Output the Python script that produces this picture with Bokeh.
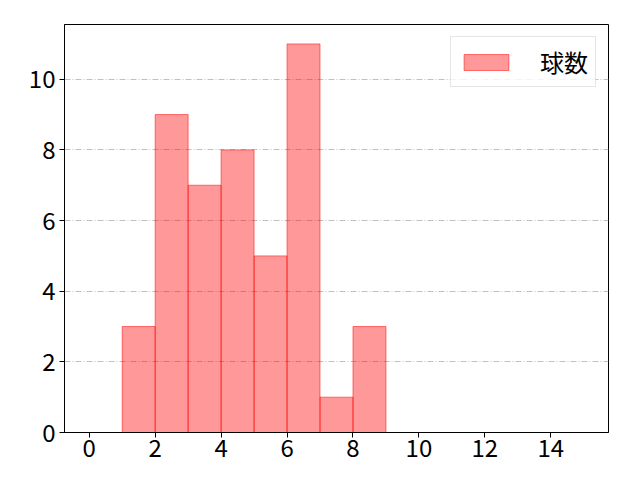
from bokeh.plotting import figure
from bokeh.models import FixedTicker, Range1d, ColumnDataSource, Legend, LegendItem
from bokeh.embed import file_html
from bokeh.resources import INLINE

bin_left = [1, 2, 3, 4, 5, 6, 7, 8]
bin_right = [2, 3, 4, 5, 6, 7, 8, 9]
counts = [3, 9, 7, 8, 5, 11, 1, 3]
x_ticks = [0, 2, 4, 6, 8, 10, 12, 14]
y_ticks = [0, 2, 4, 6, 8, 10]
label = "球数"

FONT = "Noto Sans CJK JP"

p = figure(width=624, height=464, output_backend="svg", toolbar_location=None,
           x_range=Range1d(-0.75, 15.75), y_range=Range1d(0, 11.55),
           min_border_left=64, min_border_right=16, min_border_top=24, min_border_bottom=32)

src = ColumnDataSource(dict(left=bin_left, right=bin_right, top=counts, bottom=[0]*len(counts)))
r = p.quad(left="left", right="right", top="top", bottom="bottom", source=src,
           fill_color="red", fill_alpha=0.4, line_color="red", line_alpha=0.5, line_width=1)

p.xaxis.ticker = FixedTicker(ticks=x_ticks)
p.yaxis.ticker = FixedTicker(ticks=y_ticks)
for ax in (p.xaxis, p.yaxis):
    ax.major_label_text_font = FONT
    ax.major_label_text_font_size = "24px"
    ax.major_label_text_font_style = "normal"
    ax.major_label_text_color = "black"
    ax.minor_tick_line_color = None
    ax.major_tick_out = 5
    ax.major_tick_in = 0
    ax.major_label_standoff = 4
    ax.axis_line_color = "black"
    ax.major_tick_line_color = "black"
p.xaxis.major_label_standoff = 1

p.xgrid.grid_line_color = None
p.ygrid.grid_line_color = "#b0b0b0"
p.ygrid.grid_line_dash = "6 2 1 2"
p.ygrid.grid_line_width = 0.8

p.outline_line_color = "black"
p.outline_line_alpha = 1
p.outline_line_width = 1

legend = Legend(items=[LegendItem(label=label, renderers=[r])], location="top_right")
legend.label_text_font = FONT
legend.label_text_font_size = "24px"
legend.label_text_color = "black"
legend.border_line_color = "#cccccc"
legend.glyph_width = 56
legend.glyph_height = 20
legend.label_standoff = 26
legend.label_height = 20
legend.padding = 7
legend.margin = 12
legend.background_fill_alpha = 0.8
p.add_layout(legend)

open("out.html", "w").write(file_html(p, INLINE))
